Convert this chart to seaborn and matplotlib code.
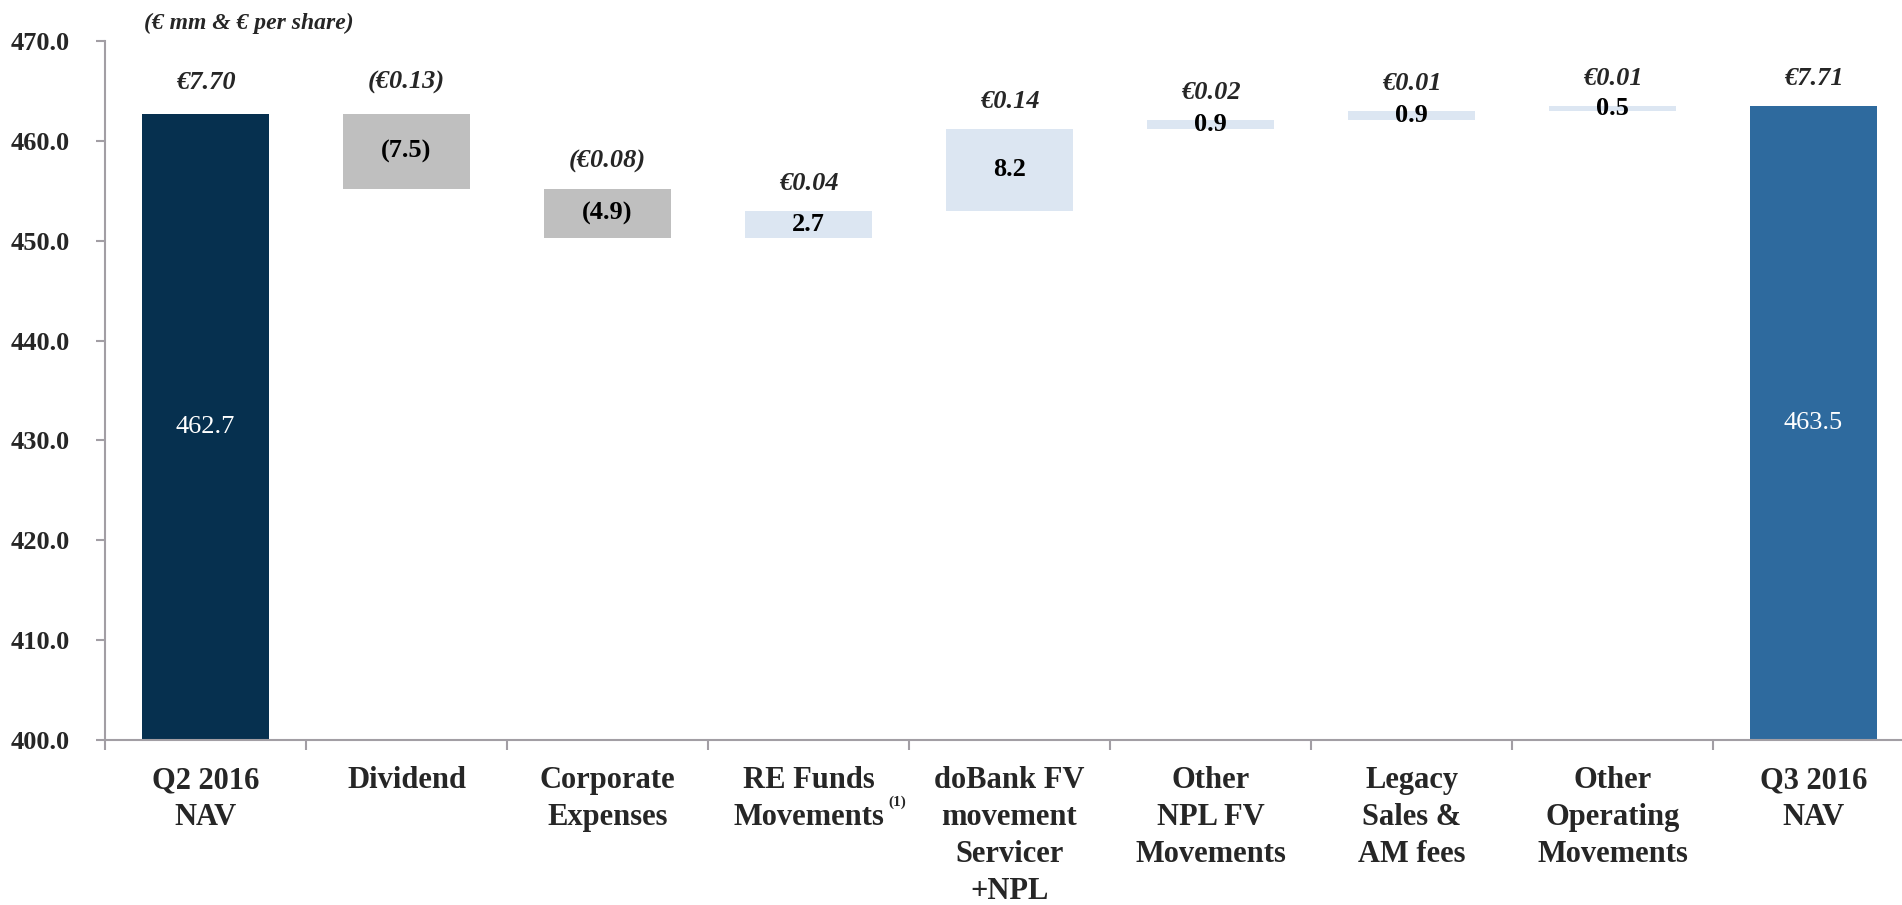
import numpy as np
import pandas as pd
import seaborn as sns
import matplotlib.pyplot as plt
from matplotlib.transforms import blended_transform_factory

# NAV bridge data (€ mm)
categories = ["Q2 2016\nNAV", "Dividend", "Corporate\nExpenses", "RE Funds\nMovements",
              "doBank FV\nmovement\nServicer\n+NPL", "Other\nNPL FV\nMovements",
              "Legacy\nSales &\nAM fees", "Other\nOperating\nMovements", "Q3 2016\nNAV"]
nav_start = 462.7
deltas = [-7.5, -4.9, 2.7, 8.2, 0.9, 0.9, 0.5]
nav_end = 463.5
per_share = ["€7.70", "(€0.13)", "(€0.08)", "€0.04", "€0.14", "€0.02", "€0.01", "€0.01", "€7.71"]

bar_colors = ["#06304F", "#BFBFBF", "#BFBFBF", "#DCE6F2", "#DCE6F2",
              "#DCE6F2", "#DCE6F2", "#DCE6F2", "#2E6A9E"]
axis_grey = "#A29EA4"

# waterfall geometry
bottoms, heights, labels = [0.0], [nav_start], [f"{nav_start:.1f}"]
level = nav_start
for d in deltas:
    bottoms.append(min(level, level + d))
    heights.append(abs(d))
    labels.append(f"({abs(d):.1f})" if d < 0 else f"{d:.1f}")
    level += d
bottoms.append(0.0)
heights.append(nav_end)
labels.append(f"{nav_end:.1f}")

df = pd.DataFrame({"step": categories, "height": heights, "bottom": bottoms})

sns.set_style("white")
plt.rcParams["font.family"] = ["Liberation Serif", "DejaVu Serif"]
plt.rcParams["font.weight"] = "bold"

fig = plt.figure(figsize=(19.02, 9.05), dpi=100)
ax = fig.add_axes([105 / 1902, 165 / 905, 1809 / 1902, 699 / 905])

sns.barplot(data=df, x="step", y="height", bottom=df["bottom"].values, width=0.63,
            errorbar=None, color=bar_colors[0], linewidth=0, ax=ax)
for patch, c in zip(ax.patches, bar_colors):
    patch.set_facecolor(c)

ymin, ymax = 400, 470
ax.set_ylim(ymin, ymax)
ax.set_xlim(-0.5, len(categories) - 0.5)

# labels inside and above bars
for i, (b, h) in enumerate(zip(bottoms, heights)):
    top = b + h
    total = i in (0, len(categories) - 1)
    mid = (max(b, ymin) + top) / 2
    ax.text(i, mid, labels[i], ha="center", va="center", fontsize=19,
            color="white" if total else "black",
            fontweight="normal" if total else "bold")
    ax.annotate(per_share[i], (i, top), xytext=(0, 18 if i < 2 else 15),
                textcoords="offset points", ha="center", va="baseline",
                fontsize=19, fontstyle="italic", fontweight="bold")

# axes styling
ax.set_xlabel("")
ax.set_ylabel("")
ax.set_yticks(np.arange(ymin, ymax + 1, 10))
ax.set_yticklabels([f"{v:.1f}" for v in np.arange(ymin, ymax + 1, 10)])
ax.tick_params(axis="y", direction="out", length=6.5, width=1.5, color=axis_grey,
               pad=19, labelsize=19, left=True)
ax.set_xticks(range(len(categories)))
ax.set_xticklabels(categories, fontsize=22, fontweight="bold", linespacing=1.36)
ax.set_xticks(np.arange(-0.5, len(categories), 1), minor=True)
ax.tick_params(axis="x", which="major", length=0, pad=19)
ax.tick_params(axis="x", which="minor", direction="out", length=7.5, width=1.5,
               color=axis_grey, bottom=True)
for side in ("top", "right"):
    ax.spines[side].set_visible(False)
for side in ("left", "bottom"):
    ax.spines[side].set_color(axis_grey)
    ax.spines[side].set_linewidth(1.5)

# footnote marker and unit note
trans = blended_transform_factory(ax.transData, ax.transAxes)
ax.text(3.44, -0.089, "(1)", transform=trans, ha="center", va="center",
        fontsize=11, fontweight="bold")
fig.text(144 / 1902, 1 - 23 / 905, "(€ mm & € per share)", ha="left", va="center",
         fontsize=17, fontstyle="italic", fontweight="bold")

fig.savefig("out.png", dpi=100)
